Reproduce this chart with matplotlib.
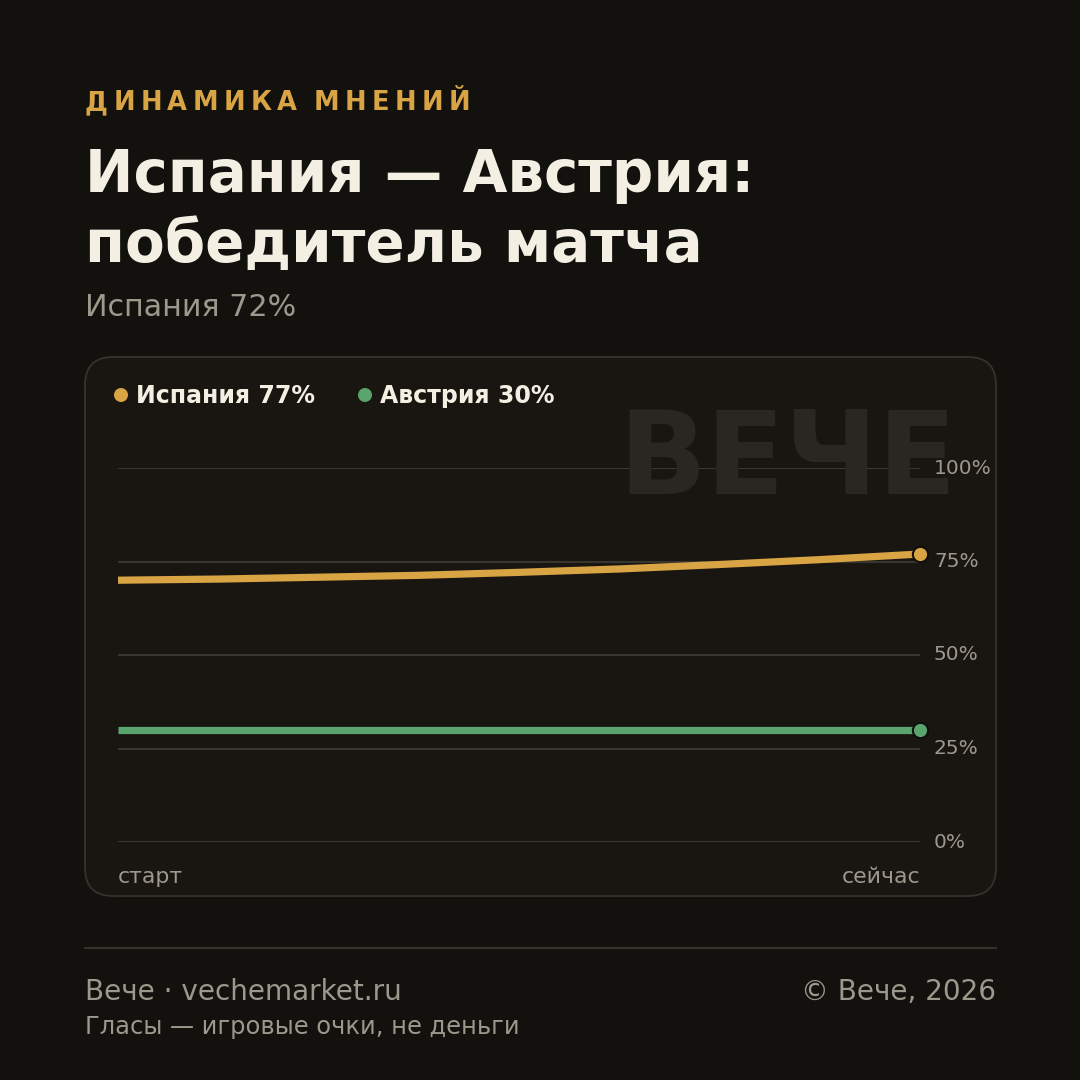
import matplotlib
matplotlib.use("Agg")
import matplotlib.pyplot as plt
from matplotlib.patches import FancyBboxPatch, Circle
from matplotlib.lines import Line2D

# ---------------- data ----------------
series_names = ["Испания", "Австрия"]
spain_values = [70.0, 70.3, 70.8, 71.3, 72.1, 73.0, 74.2, 75.5, 77.0]
austria_values = [30.0, 30.0, 30.0, 30.0, 30.0, 30.0, 30.0, 30.0, 30.0]
legend_values = [77, 30]
y_ticks = [0, 25, 50, 75, 100]
y_tick_labels = ["0%", "25%", "50%", "75%", "100%"]
x_labels = ["старт", "сейчас"]
kicker = "ДИНАМИКА МНЕНИЙ"
title_lines = ["Испания — Австрия:", "победитель матча"]
subtitle = "Испания 72%"
watermark = "ВЕЧЕ"
footer_left = "Вече · vechemarket.ru"
footer_right = "© Вече, 2026"
footer_note = "Гласы — игровые очки, не деньги"

# ---------------- style ----------------
BG = "#13110e"
CARD = "#191612"
CARD_EDGE = "#36322b"
GRID = "#38352e"
ORANGE = "#d8a444"
GREEN = "#5aa56e"
WHITE = "#f3efe3"
GRAY = "#9d988c"
WM = "#2a2722"
colors = [ORANGE, GREEN]

W = H = 1080
plt.rcParams['font.family'] = ['DejaVu Sans']
fig = plt.figure(figsize=(10.8, 10.8), dpi=100, facecolor=BG)


def P(x, y):
    return (x / W, 1 - y / H)


# card
card = FancyBboxPatch(P(85, 896), (996 - 85) / W, (896 - 357) / H,
                      boxstyle="round,pad=0,rounding_size=%f" % (28 / W),
                      transform=fig.transFigure, facecolor=CARD,
                      edgecolor=CARD_EDGE, linewidth=1.3, zorder=0)
fig.add_artist(card)

# axes
left, right = 118, 920
y0, y100 = 842, 468
ax = fig.add_axes([left / W, 1 - y0 / H, (right - left) / W, (y0 - y100) / H])
ax.set_facecolor("none")
ax.set_xlim(0, len(spain_values) - 1)
ax.set_ylim(0, 100)
for s in ax.spines.values():
    s.set_visible(False)
ax.set_xticks([])
ax.set_yticks([])

# watermark
fig.text(*P(957, 494), watermark, fontsize=83, fontweight="bold", color=WM,
         ha="right", va="baseline", zorder=1)

for t, lab in zip(y_ticks, y_tick_labels):
    ax.axhline(t, color=GRID, linewidth=1.5, zorder=2)
    ax.text(1.0 + 14 / (right - left), t, lab, transform=ax.get_yaxis_transform(),
            ha="left", va="center", fontsize=14.5, color=GRAY, zorder=3)

xs = list(range(len(spain_values)))
for vals, c in zip([spain_values, austria_values], colors):
    ax.plot(xs, vals, color=c, linewidth=5.2, solid_capstyle="butt", zorder=4)
    ax.plot([xs[-1]], [vals[-1]], marker="o", markersize=11, color=c,
            markeredgecolor="#100f0c", markeredgewidth=1.5, clip_on=False, zorder=5)

xlab_y = -41 / (y0 - y100)
ax.text(0, xlab_y, x_labels[0], transform=ax.transAxes,
        ha="left", va="baseline", fontsize=15.8, color=GRAY)
ax.text(1, xlab_y, x_labels[1], transform=ax.transAxes,
        ha="right", va="baseline", fontsize=15.8, color=GRAY)

# legend
renderer = fig.canvas.get_renderer()
lx = [121, 365]
for i, (name, v, c) in enumerate(zip(series_names, legend_values, colors)):
    fig.add_artist(Circle(P(lx[i], 395), 7 / W, transform=fig.transFigure,
                          facecolor=c, edgecolor="none", zorder=6))
    fig.text(*P(lx[i] + 15, 403), f"{name} {v}%", fontsize=17, fontweight="bold",
             color=WHITE, ha="left", va="baseline", zorder=6)

# kicker with letter spacing
x = 85.0
spacing = 5.4
for ch in kicker:
    if ch == " ":
        x += 11.0
        continue
    t = fig.text(*P(x, 110), ch, fontsize=18.5, fontweight="bold", color=ORANGE,
                 ha="left", va="baseline")
    bb = t.get_window_extent(renderer)
    x += bb.width + spacing

# title
fig.text(*P(85, 192), title_lines[0], fontsize=41.7, fontweight="bold", color=WHITE,
         ha="left", va="baseline")
fig.text(*P(85, 262), title_lines[1], fontsize=41.7, fontweight="bold", color=WHITE,
         ha="left", va="baseline")
fig.text(*P(85, 316), subtitle, fontsize=21.7, color=GRAY, ha="left", va="baseline")

# footer
fig.add_artist(Line2D([85 / W, 996 / W], [1 - 948 / H] * 2, transform=fig.transFigure,
                      color=CARD_EDGE, linewidth=1.5))
fig.text(*P(85, 1000), footer_left, fontsize=20.1, color=GRAY, ha="left", va="baseline")
fig.text(*P(996, 1000), footer_right, fontsize=20.1, color=GRAY, ha="right", va="baseline")
fig.text(*P(85, 1034), footer_note, fontsize=17.4, color=GRAY, ha="left", va="baseline")

fig.savefig("out.png", dpi=100, facecolor=BG)
